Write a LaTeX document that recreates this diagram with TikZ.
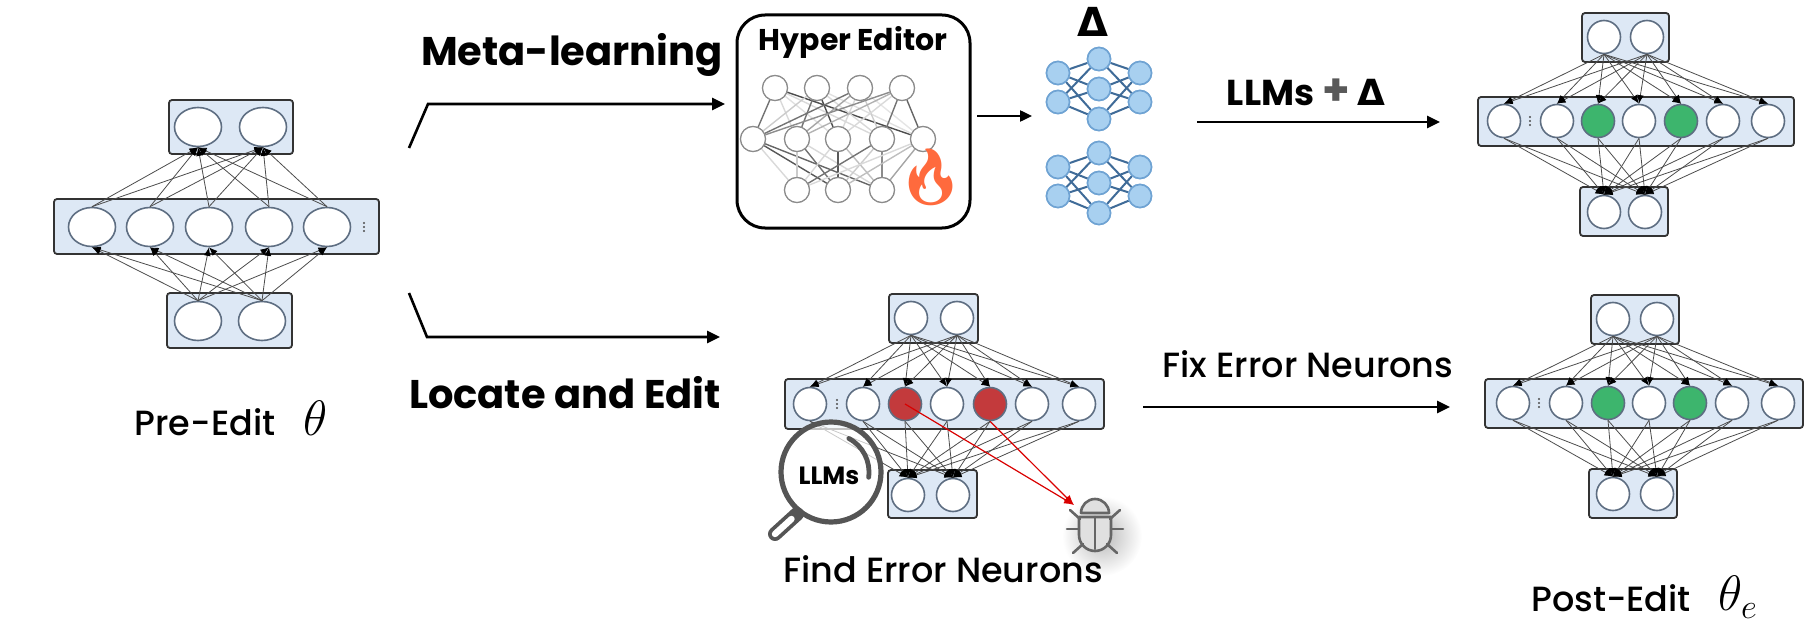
\documentclass[tikz,border=0pt]{standalone}
\usepackage[no-math]{fontspec}
\setmainfont{Poppins}
\newfontfamily\medfont{Poppins Medium}
\newfontfamily\emojifont{Noto Emoji}
\newfontfamily\symfont{DejaVu Sans}
\usetikzlibrary{arrows.meta,shapes.geometric,calc}

\definecolor{boxblue}{HTML}{DDE8F5}
\definecolor{nstroke}{HTML}{5E6E82}
\definecolor{ngreen}{HTML}{3DB56D}
\definecolor{nred}{HTML}{C33A3C}
\definecolor{dfill}{HTML}{A8D0F0}
\definecolor{dstroke}{HTML}{6FA3D3}
\definecolor{dedge}{HTML}{3F6B98}
\definecolor{mgray}{HTML}{555555}
\definecolor{fireorange}{HTML}{FF6A3D}
\definecolor{bugline}{HTML}{666666}

% layer box given by its corners (in pixel-like units)
\newcommand{\layerbox}[5]{%
  \node[netbox,minimum width={(#4-#2)*0.5pt},minimum height={(#5-#3)*0.5pt}]
    (#1) at ({(#2+#4)/2},{(#3+#5)/2}) {};}
% three small vertical dots
\newcommand{\vdotsat}[2]{%
  \foreach \d in {-4,0,4} \fill[black!70] (#1,#2+\d) circle (0.55pt);}
\newcommand{\bDelta}{{\symfont\bfseries Δ}}

\begin{document}
\begin{tikzpicture}[x=0.5pt,y=-0.5pt,
  netbox/.style={draw=black!80,fill=boxblue,line width=0.9pt,rounded corners=1.5pt,inner sep=0pt},
  neuron/.style={circle,draw=nstroke,fill=white,line width=0.8pt,minimum size=16.5pt,inner sep=0pt},
  eneuron/.style={ellipse,draw=nstroke,fill=white,line width=0.8pt,minimum width=23.5pt,minimum height=19.5pt,inner sep=0pt},
  link/.style={draw=black!70,line width=0.4pt,-{Latex[length=4.3pt,width=3.4pt,color=black]}},
  flow/.style={line width=1.3pt,-{Triangle[length=6.5pt,width=6pt]}},
  hneuron/.style={circle,draw=black!45,fill=white,line width=0.6pt,minimum size=12.5pt,inner sep=0pt},
  dneuron/.style={circle,draw=dstroke,fill=dfill,line width=0.8pt,minimum size=11.5pt,inner sep=0pt},
  dlink/.style={draw=dedge,line width=1pt},
  redarrow/.style={draw=red!85!black,line width=0.6pt,-{Latex[length=5pt,width=4pt]}},
  boldlbl/.style={font=\fontsize{20}{24}\selectfont\bfseries},
  plainlbl/.style={font=\medfont\fontsize{17.5}{21}\selectfont},
]
\useasboundingbox (0,0) rectangle (1810,626);

% ---------------- pre-edit network ----------------
\layerbox{ltop}{169}{100}{293}{154}
\layerbox{lmid}{54}{199}{379}{254}
\layerbox{lbot}{167}{293}{292}{348}
\node[eneuron] (lt1) at (198,127) {};
\node[eneuron] (lt2) at (263,127) {};
\foreach \x [count=\i] in {92,150,209,269,327} \node[eneuron] (lm\i) at (\x,227) {};
\node[eneuron] (lb1) at (198,321) {};
\node[eneuron] (lb2) at (262,321) {};
\vdotsat{364}{227}
\foreach \a in {1,2} \foreach \b in {1,...,5} {
  \draw[link] (lb\a.north) -- (lm\b.south);
  \draw[link] (lm\b.north) -- (lt\a.south);
}
\node[plainlbl] (prelbl) at (205,422) {Pre-Edit};
\node[font=\fontsize{26}{26}\selectfont] (pretheta) at (316,418) {$\theta$};

% ---------------- branching arrows ----------------
\coordinate (mlA) at (409,148);
\coordinate (mlB) at (428,104);
\coordinate (mlC) at (725,104);
\draw[flow] (mlA) -- (mlB) -- (mlC);
\node[boldlbl] (mllbl) at (572,55) {Meta-learning};

\coordinate (leA) at (409,293);
\coordinate (leB) at (427,337);
\coordinate (leC) at (720,337);
\draw[flow] (leA) -- (leB) -- (leC);
\node[boldlbl] (lelbl) at (565,393) {Locate and Edit};

% ---------------- hyper editor ----------------
\node[draw,line width=1.5pt,rounded corners=14pt,minimum width=116.5pt,minimum height=106.5pt,inner sep=0pt]
  (hyper) at (853.5,121.5) {};
\node[font=\fontsize{15}{18}\selectfont\bfseries] (hyperlbl) at (853,42) {Hyper Editor};
\foreach \x [count=\i] in {775,817,860,902} \node[hneuron] (ht\i) at (\x,88) {};
\foreach \x [count=\i] in {753,797,838,882,923} \node[hneuron] (hm\i) at (\x,139) {};
\foreach \x [count=\i] in {797,838,882} \node[hneuron] (hb\i) at (\x,190) {};
\foreach \a/\b/\g in {1/1/55,1/2/15,1/3/12,1/4/15,1/5/70,2/1/20,2/2/55,2/3/70,2/4/15,2/5/12,
                      3/1/55,3/2/35,3/3/15,3/4/20,3/5/10,4/1/45,4/2/30,4/3/15,4/4/55,4/5/60}
  \draw[black!\g,line width=0.7pt] (ht\a) -- (hm\b);
\foreach \a/\b/\g in {1/1/15,1/2/65,1/3/60,2/1/20,2/2/55,2/3/15,3/1/15,3/2/65,3/3/25,
                      4/1/55,4/2/20,4/3/45,5/1/15,5/2/25,5/3/35}
  \draw[black!\g,line width=0.7pt] (hm\a) -- (hb\b);
% neurons redrawn on top of their links
\foreach \x in {775,817,860,902} \node[hneuron] at (\x,88) {};
\foreach \x in {753,797,838,882,923} \node[hneuron] at (\x,139) {};
\foreach \x in {797,838,882} \node[hneuron] at (\x,190) {};
\node[font=\emojifont\fontsize{28}{28}\selectfont,text=fireorange] (fire) at (931,177) {🔥};

\coordinate (hdA) at (977,116);
\coordinate (hdB) at (1032,116);
\draw[line width=1.2pt,-{Triangle[length=6pt,width=5.5pt]}] (hdA) -- (hdB);

% ---------------- delta networks ----------------
\node[font=\fontsize{20}{20}\selectfont] (deltalbl) at (1093,22) {\bDelta};
\foreach \dy/\k in {0/1,94/2} {
  \node[dneuron] (d\k l1) at (1058,73+\dy) {};
  \node[dneuron] (d\k l2) at (1058,102+\dy) {};
  \node[dneuron] (d\k c1) at (1099,59+\dy) {};
  \node[dneuron] (d\k c2) at (1099,89+\dy) {};
  \node[dneuron] (d\k c3) at (1099,119+\dy) {};
  \node[dneuron] (d\k r1) at (1140,73+\dy) {};
  \node[dneuron] (d\k r2) at (1140,102+\dy) {};
  \foreach \s in {l1,l2,r1,r2} \foreach \c in {c1,c2,c3}
    \draw[dlink] (d\k\s) -- (d\k\c);
  \foreach \px/\py in {1058/73,1058/102,1099/59,1099/89,1099/119,1140/73,1140/102}
    \node[dneuron] at (\px,\py+\dy) {};
}

% ---------------- LLMs + Delta ----------------
\coordinate (ldA) at (1197,122);
\coordinate (ldB) at (1440,122);
\draw[flow] (ldA) -- (ldB);
\node[font=\fontsize{18}{22}\selectfont\bfseries] (ldlbl) at (1306,92)
  {LLMs \textcolor{black!65}{\fontsize{22}{22}\selectfont +} \bDelta};

% ---------------- edited network (meta-learning) ----------------
\layerbox{atop}{1582}{13}{1669}{62}
\layerbox{amid}{1478}{97}{1794}{146}
\layerbox{abot}{1580}{187}{1668}{236}
\node[neuron] (at1) at (1604,37) {};
\node[neuron] (at2) at (1647,37) {};
\foreach \x/\c [count=\i] in {1504/white,1557/white,1598/ngreen,1639/white,1681/ngreen,1723/white,1768/white}
  \node[neuron,fill=\c] (am\i) at (\x,121) {};
\node[neuron] (ab1) at (1604,212) {};
\node[neuron] (ab2) at (1645,212) {};
\vdotsat{1530}{121}
\foreach \a in {1,2} \foreach \b in {1,...,7} {
  \draw[link] (at\a.south) -- (am\b.north);
  \draw[link] (am\b.south) -- (ab\a.north);
}

% ---------------- located network ----------------
\layerbox{btop}{889}{294}{978}{343}
\layerbox{bmid}{785}{379}{1104}{429}
\layerbox{bbot}{888}{470}{977}{518}
\node[neuron] (bt1) at (911,318) {};
\node[neuron] (bt2) at (957,318) {};
\foreach \x/\c [count=\i] in {810/white,863/white,905/nred,947/white,990/nred,1032/white,1079/white}
  \node[neuron,fill=\c] (bm\i) at (\x,404) {};
\node[neuron] (bb1) at (908,495) {};
\node[neuron] (bb2) at (953,495) {};
\vdotsat{837}{404}
\foreach \a in {1,2} \foreach \b in {1,...,7} {
  \draw[link] (bt\a.south) -- (bm\b.north);
  \draw[link] (bm\b.south) -- (bb\a.north);
}

% bug icon with soft shadow
\shade[inner color=black!28,outer color=white] (1102,536) circle (40);
\node[minimum size=30pt,inner sep=0pt] (bug) at (1095,527) {};
\begin{scope}[shift={(bug.center)},draw=bugline,line width=1.3pt,line cap=round,line join=round]
  \filldraw[fill=black!12] (-14,-14) arc (180:360:14) -- cycle;
  \filldraw[fill=black!12] (-16,-10) -- (16,-10) -- (16,8) arc (0:180:16) -- cycle;
  \draw (0,-10) -- (0,22);
  \draw (-16,2) -- (-28,2) (16,2) -- (28,2);
  \draw (-15,-8) -- (-25,-17) (15,-8) -- (25,-17);
  \draw (-12,17) -- (-22,26) (12,17) -- (22,26);
\end{scope}
\coordinate (bugtip) at (1074,505);
\draw[redarrow] (bm3.center) -- (bugtip);
\draw[redarrow] (bm5.south) -- (bugtip);

% magnifier
\node[circle,draw=mgray,line width=2.6pt,fill=white,fill opacity=0.7,draw opacity=1,
  minimum size=50pt,inner sep=0pt] (mag) at (831,472) {};
\coordinate (hs) at (797,514);
\coordinate (he) at (775,534);
\draw[mgray,line width=7pt,line cap=round] (hs) -- (he);
\draw[white,line width=3.2pt,line cap=round] ($(hs)!0.25!(he)$) -- (he);
\draw[mgray,line width=2.4pt,line cap=round] (mag.center) ++(-62:38) arc (-62:8:38);
\node[font=\fontsize{12.5}{14}\selectfont\bfseries] (maglbl) at (829,476) {LLMs};
\node[plainlbl] (findlbl) at (943,569) {Find Error Neurons};

% ---------------- fix arrow ----------------
\coordinate (fxA) at (1143,407);
\coordinate (fxB) at (1450,407);
\draw[flow] (fxA) -- (fxB);
\node[plainlbl] (fixlbl) at (1308,364) {Fix Error Neurons};

% ---------------- edited network (locate and edit) ----------------
\layerbox{ctop}{1591}{295}{1679}{344}
\layerbox{cmid}{1485}{379}{1803}{428}
\layerbox{cbot}{1589}{469}{1677}{518}
\node[neuron] (ct1) at (1613,319) {};
\node[neuron] (ct2) at (1657,319) {};
\foreach \x/\c [count=\i] in {1513/white,1566/white,1608/ngreen,1649/white,1690/ngreen,1732/white,1778/white}
  \node[neuron,fill=\c] (cm\i) at (\x,403) {};
\node[neuron] (cb1) at (1613,494) {};
\node[neuron] (cb2) at (1657,494) {};
\vdotsat{1539}{403}
\foreach \a in {1,2} \foreach \b in {1,...,7} {
  \draw[link] (ct\a.south) -- (cm\b.north);
  \draw[link] (cm\b.south) -- (cb\a.north);
}
\node[plainlbl] (postlbl) at (1611,598) {Post-Edit};
\node[font=\fontsize{26}{26}\selectfont] (posttheta) at (1738,597) {$\theta_e$};
\end{tikzpicture}
\end{document}
